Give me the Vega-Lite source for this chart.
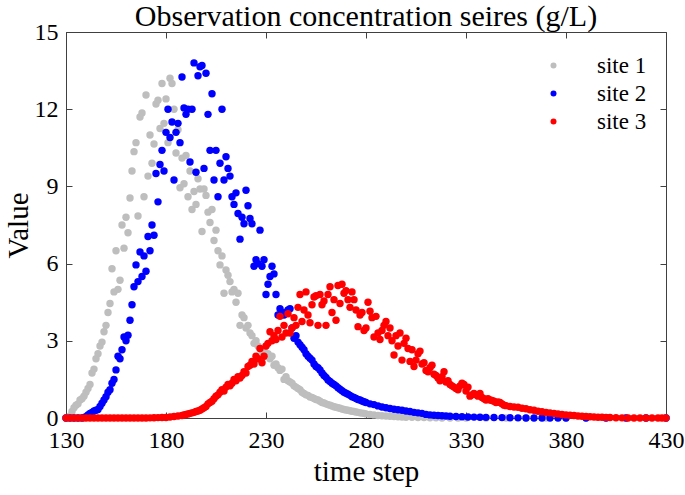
{
"$schema":"https://vega.github.io/schema/vega-lite/v6.json",
"width":600,"height":386,
"autosize":"none",
"padding":{"left":66,"top":32,"right":19,"bottom":77},
"background":"white",
"title":{"text":"Observation concentration seires (g/L)","font":"Liberation Serif","fontSize":30,"fontWeight":"normal","color":"black","anchor":"middle","offset":-12},
"config":{"view":{"stroke":"#404040","strokeWidth":1},"font":"Liberation Serif"},
"data":{"values":[
{"t":130,"s":"site 1","v":0},{"t":131,"s":"site 1","v":0.02},{"t":132,"s":"site 1","v":0.08},{"t":133,"s":"site 1","v":0.25},{"t":134,"s":"site 1","v":0.4},{"t":135,"s":"site 1","v":0.5},{"t":136,"s":"site 1","v":0.55},{"t":137,"s":"site 1","v":0.7},{"t":138,"s":"site 1","v":0.75},{"t":139,"s":"site 1","v":0.85},{"t":140,"s":"site 1","v":1.0},{"t":141,"s":"site 1","v":1.15},{"t":142,"s":"site 1","v":1.3},{"t":143,"s":"site 1","v":1.75},{"t":144,"s":"site 1","v":1.9},{"t":145,"s":"site 1","v":2.3},{"t":146,"s":"site 1","v":2.5},{"t":147,"s":"site 1","v":2.8},{"t":148,"s":"site 1","v":2.95},{"t":149,"s":"site 1","v":3.35},{"t":150,"s":"site 1","v":3.6},{"t":151,"s":"site 1","v":4.1},{"t":152,"s":"site 1","v":4.45},{"t":153,"s":"site 1","v":5.8},{"t":154,"s":"site 1","v":4.9},{"t":155,"s":"site 1","v":6.5},{"t":156,"s":"site 1","v":5.0},{"t":157,"s":"site 1","v":5.35},{"t":158,"s":"site 1","v":7.5},{"t":159,"s":"site 1","v":6.6},{"t":160,"s":"site 1","v":7.8},{"t":161,"s":"site 1","v":7.2},{"t":162,"s":"site 1","v":8.55},{"t":163,"s":"site 1","v":9.6},{"t":164,"s":"site 1","v":10.35},{"t":165,"s":"site 1","v":10.7},{"t":166,"s":"site 1","v":7.85},{"t":167,"s":"site 1","v":11.7},{"t":168,"s":"site 1","v":11.85},{"t":169,"s":"site 1","v":8.6},{"t":170,"s":"site 1","v":12.55},{"t":171,"s":"site 1","v":9.4},{"t":172,"s":"site 1","v":11.0},{"t":173,"s":"site 1","v":9.9},{"t":174,"s":"site 1","v":10.65},{"t":175,"s":"site 1","v":12.2},{"t":176,"s":"site 1","v":12.35},{"t":177,"s":"site 1","v":11.25},{"t":178,"s":"site 1","v":13.0},{"t":179,"s":"site 1","v":11.45},{"t":180,"s":"site 1","v":12.4},{"t":181,"s":"site 1","v":10.7},{"t":182,"s":"site 1","v":13.2},{"t":183,"s":"site 1","v":13.0},{"t":184,"s":"site 1","v":12.0},{"t":185,"s":"site 1","v":10.3},{"t":186,"s":"site 1","v":11.2},{"t":187,"s":"site 1","v":8.95},{"t":188,"s":"site 1","v":10.1},{"t":189,"s":"site 1","v":9.1},{"t":190,"s":"site 1","v":10.2},{"t":191,"s":"site 1","v":8.6},{"t":192,"s":"site 1","v":9.6},{"t":193,"s":"site 1","v":8.1},{"t":194,"s":"site 1","v":8.8},{"t":195,"s":"site 1","v":8.3},{"t":196,"s":"site 1","v":9.3},{"t":197,"s":"site 1","v":8.9},{"t":198,"s":"site 1","v":7.25},{"t":199,"s":"site 1","v":8.9},{"t":200,"s":"site 1","v":8.65},{"t":201,"s":"site 1","v":8.0},{"t":202,"s":"site 1","v":7.6},{"t":203,"s":"site 1","v":8.1},{"t":204,"s":"site 1","v":6.9},{"t":205,"s":"site 1","v":7.3},{"t":206,"s":"site 1","v":6.5},{"t":207,"s":"site 1","v":5.95},{"t":208,"s":"site 1","v":6.3},{"t":209,"s":"site 1","v":4.85},{"t":210,"s":"site 1","v":5.75},{"t":211,"s":"site 1","v":5.55},{"t":212,"s":"site 1","v":5.3},{"t":213,"s":"site 1","v":4.9},{"t":214,"s":"site 1","v":5.0},{"t":215,"s":"site 1","v":4.5},{"t":216,"s":"site 1","v":4.85},{"t":217,"s":"site 1","v":3.6},{"t":218,"s":"site 1","v":4.0},{"t":219,"s":"site 1","v":3.9},{"t":220,"s":"site 1","v":3.5},{"t":221,"s":"site 1","v":3.6},{"t":222,"s":"site 1","v":3.3},{"t":223,"s":"site 1","v":3.2},{"t":224,"s":"site 1","v":2.9},{"t":225,"s":"site 1","v":3.0},{"t":226,"s":"site 1","v":2.8},{"t":227,"s":"site 1","v":2.7},{"t":228,"s":"site 1","v":2.6},{"t":229,"s":"site 1","v":2.65},{"t":230,"s":"site 1","v":2.4},{"t":231,"s":"site 1","v":2.5},{"t":232,"s":"site 1","v":2.3},{"t":233,"s":"site 1","v":2.4},{"t":234,"s":"site 1","v":2.05},{"t":235,"s":"site 1","v":2.1},{"t":236,"s":"site 1","v":1.95},{"t":237,"s":"site 1","v":1.85},{"t":238,"s":"site 1","v":1.9},{"t":239,"s":"site 1","v":1.5},{"t":240,"s":"site 1","v":1.6},{"t":241,"s":"site 1","v":1.45},{"t":242,"s":"site 1","v":1.4},{"t":243,"s":"site 1","v":1.35},{"t":244,"s":"site 1","v":1.25},{"t":245,"s":"site 1","v":1.2},{"t":246,"s":"site 1","v":1.15},{"t":247,"s":"site 1","v":1.1},{"t":248,"s":"site 1","v":1.0},{"t":249,"s":"site 1","v":0.95},{"t":250,"s":"site 1","v":0.9},{"t":251,"s":"site 1","v":0.88},{"t":252,"s":"site 1","v":0.82},{"t":253,"s":"site 1","v":0.8},{"t":254,"s":"site 1","v":0.76},{"t":255,"s":"site 1","v":0.72},{"t":256,"s":"site 1","v":0.7},{"t":257,"s":"site 1","v":0.65},{"t":258,"s":"site 1","v":0.6},{"t":259,"s":"site 1","v":0.58},{"t":260,"s":"site 1","v":0.55},{"t":261,"s":"site 1","v":0.52},{"t":262,"s":"site 1","v":0.5},{"t":263,"s":"site 1","v":0.47},{"t":264,"s":"site 1","v":0.44},{"t":265,"s":"site 1","v":0.42},{"t":266,"s":"site 1","v":0.4},{"t":267,"s":"site 1","v":0.38},{"t":268,"s":"site 1","v":0.35},{"t":269,"s":"site 1","v":0.33},{"t":270,"s":"site 1","v":0.31},{"t":271,"s":"site 1","v":0.3},{"t":272,"s":"site 1","v":0.28},{"t":273,"s":"site 1","v":0.26},{"t":274,"s":"site 1","v":0.25},{"t":275,"s":"site 1","v":0.23},{"t":276,"s":"site 1","v":0.22},{"t":277,"s":"site 1","v":0.2},{"t":278,"s":"site 1","v":0.19},{"t":279,"s":"site 1","v":0.18},{"t":280,"s":"site 1","v":0.16},{"t":282,"s":"site 1","v":0.14},{"t":284,"s":"site 1","v":0.12},{"t":286,"s":"site 1","v":0.1},{"t":288,"s":"site 1","v":0.09},{"t":290,"s":"site 1","v":0.08},{"t":292,"s":"site 1","v":0.07},{"t":294,"s":"site 1","v":0.06},{"t":296,"s":"site 1","v":0.05},{"t":298,"s":"site 1","v":0.04},{"t":300,"s":"site 1","v":0.03},{"t":303,"s":"site 1","v":0.025},{"t":306,"s":"site 1","v":0.02},{"t":309,"s":"site 1","v":0.015},{"t":312,"s":"site 1","v":0.01},{"t":315,"s":"site 1","v":0.005},{"t":318,"s":"site 1","v":0},{"t":322,"s":"site 1","v":0},{"t":326,"s":"site 1","v":0},{"t":330,"s":"site 1","v":0},{"t":340,"s":"site 1","v":0},{"t":350,"s":"site 1","v":0},{"t":360,"s":"site 1","v":0},{"t":370,"s":"site 1","v":0},{"t":380,"s":"site 1","v":0},{"t":390,"s":"site 1","v":0},{"t":400,"s":"site 1","v":0},{"t":410,"s":"site 1","v":0},{"t":420,"s":"site 1","v":0},{"t":430,"s":"site 1","v":0},
{"t":130,"s":"site 2","v":0},{"t":132,"s":"site 2","v":0},{"t":134,"s":"site 2","v":0},{"t":136,"s":"site 2","v":0},{"t":138,"s":"site 2","v":0},{"t":139,"s":"site 2","v":0.02},{"t":140,"s":"site 2","v":0.05},{"t":141,"s":"site 2","v":0.12},{"t":142,"s":"site 2","v":0.18},{"t":143,"s":"site 2","v":0.22},{"t":144,"s":"site 2","v":0.27},{"t":145,"s":"site 2","v":0.3},{"t":146,"s":"site 2","v":0.33},{"t":147,"s":"site 2","v":0.45},{"t":148,"s":"site 2","v":0.57},{"t":149,"s":"site 2","v":0.7},{"t":150,"s":"site 2","v":0.83},{"t":151,"s":"site 2","v":1.0},{"t":152,"s":"site 2","v":1.1},{"t":153,"s":"site 2","v":1.35},{"t":154,"s":"site 2","v":1.5},{"t":155,"s":"site 2","v":1.87},{"t":156,"s":"site 2","v":2.4},{"t":157,"s":"site 2","v":2.3},{"t":158,"s":"site 2","v":2.65},{"t":159,"s":"site 2","v":3.15},{"t":160,"s":"site 2","v":3.0},{"t":161,"s":"site 2","v":3.22},{"t":162,"s":"site 2","v":3.8},{"t":163,"s":"site 2","v":4.4},{"t":164,"s":"site 2","v":5.1},{"t":165,"s":"site 2","v":5.95},{"t":166,"s":"site 2","v":5.3},{"t":167,"s":"site 2","v":6.45},{"t":168,"s":"site 2","v":5.5},{"t":169,"s":"site 2","v":6.3},{"t":170,"s":"site 2","v":5.7},{"t":171,"s":"site 2","v":7.05},{"t":172,"s":"site 2","v":6.5},{"t":173,"s":"site 2","v":7.5},{"t":174,"s":"site 2","v":7.1},{"t":175,"s":"site 2","v":9.5},{"t":176,"s":"site 2","v":8.4},{"t":177,"s":"site 2","v":9.85},{"t":178,"s":"site 2","v":10.4},{"t":179,"s":"site 2","v":9.6},{"t":180,"s":"site 2","v":11.1},{"t":181,"s":"site 2","v":12.0},{"t":182,"s":"site 2","v":10.9},{"t":183,"s":"site 2","v":11.5},{"t":184,"s":"site 2","v":9.25},{"t":185,"s":"site 2","v":11.1},{"t":186,"s":"site 2","v":11.45},{"t":187,"s":"site 2","v":10.7},{"t":188,"s":"site 2","v":13.25},{"t":189,"s":"site 2","v":12.05},{"t":190,"s":"site 2","v":11.8},{"t":191,"s":"site 2","v":12.0},{"t":192,"s":"site 2","v":9.95},{"t":193,"s":"site 2","v":12.0},{"t":194,"s":"site 2","v":13.8},{"t":195,"s":"site 2","v":9.55},{"t":196,"s":"site 2","v":13.3},{"t":197,"s":"site 2","v":13.65},{"t":198,"s":"site 2","v":13.7},{"t":199,"s":"site 2","v":9.7},{"t":200,"s":"site 2","v":13.4},{"t":201,"s":"site 2","v":11.8},{"t":202,"s":"site 2","v":10.4},{"t":203,"s":"site 2","v":12.6},{"t":204,"s":"site 2","v":9.25},{"t":205,"s":"site 2","v":10.4},{"t":206,"s":"site 2","v":8.6},{"t":207,"s":"site 2","v":9.9},{"t":208,"s":"site 2","v":12.0},{"t":209,"s":"site 2","v":9.25},{"t":210,"s":"site 2","v":10.15},{"t":211,"s":"site 2","v":9.7},{"t":212,"s":"site 2","v":9.4},{"t":213,"s":"site 2","v":8.6},{"t":214,"s":"site 2","v":8.3},{"t":215,"s":"site 2","v":8.75},{"t":216,"s":"site 2","v":7.95},{"t":217,"s":"site 2","v":6.95},{"t":218,"s":"site 2","v":7.8},{"t":219,"s":"site 2","v":7.55},{"t":220,"s":"site 2","v":8.85},{"t":221,"s":"site 2","v":8.25},{"t":222,"s":"site 2","v":7.75},{"t":223,"s":"site 2","v":7.55},{"t":224,"s":"site 2","v":5.9},{"t":225,"s":"site 2","v":6.15},{"t":226,"s":"site 2","v":6.0},{"t":227,"s":"site 2","v":7.3},{"t":228,"s":"site 2","v":5.9},{"t":229,"s":"site 2","v":6.15},{"t":230,"s":"site 2","v":4.8},{"t":231,"s":"site 2","v":5.2},{"t":232,"s":"site 2","v":5.5},{"t":233,"s":"site 2","v":5.9},{"t":234,"s":"site 2","v":5.6},{"t":235,"s":"site 2","v":4.8},{"t":236,"s":"site 2","v":4.0},{"t":237,"s":"site 2","v":4.25},{"t":238,"s":"site 2","v":4.1},{"t":239,"s":"site 2","v":4.0},{"t":240,"s":"site 2","v":4.1},{"t":241,"s":"site 2","v":4.2},{"t":242,"s":"site 2","v":4.25},{"t":243,"s":"site 2","v":3.5},{"t":244,"s":"site 2","v":3.1},{"t":245,"s":"site 2","v":3.2},{"t":246,"s":"site 2","v":2.95},{"t":247,"s":"site 2","v":2.85},{"t":248,"s":"site 2","v":2.75},{"t":249,"s":"site 2","v":2.65},{"t":250,"s":"site 2","v":2.5},{"t":251,"s":"site 2","v":2.4},{"t":252,"s":"site 2","v":2.32},{"t":253,"s":"site 2","v":2.25},{"t":254,"s":"site 2","v":2.1},{"t":255,"s":"site 2","v":2.0},{"t":256,"s":"site 2","v":1.95},{"t":257,"s":"site 2","v":1.87},{"t":258,"s":"site 2","v":1.75},{"t":259,"s":"site 2","v":1.65},{"t":260,"s":"site 2","v":1.58},{"t":261,"s":"site 2","v":1.48},{"t":262,"s":"site 2","v":1.42},{"t":263,"s":"site 2","v":1.35},{"t":264,"s":"site 2","v":1.3},{"t":265,"s":"site 2","v":1.25},{"t":266,"s":"site 2","v":1.18},{"t":267,"s":"site 2","v":1.12},{"t":268,"s":"site 2","v":1.06},{"t":269,"s":"site 2","v":1.0},{"t":270,"s":"site 2","v":0.96},{"t":271,"s":"site 2","v":0.92},{"t":272,"s":"site 2","v":0.88},{"t":273,"s":"site 2","v":0.83},{"t":274,"s":"site 2","v":0.8},{"t":275,"s":"site 2","v":0.76},{"t":276,"s":"site 2","v":0.72},{"t":277,"s":"site 2","v":0.7},{"t":278,"s":"site 2","v":0.66},{"t":279,"s":"site 2","v":0.63},{"t":280,"s":"site 2","v":0.6},{"t":282,"s":"site 2","v":0.55},{"t":284,"s":"site 2","v":0.52},{"t":286,"s":"site 2","v":0.47},{"t":288,"s":"site 2","v":0.43},{"t":290,"s":"site 2","v":0.4},{"t":292,"s":"site 2","v":0.37},{"t":294,"s":"site 2","v":0.34},{"t":296,"s":"site 2","v":0.32},{"t":298,"s":"site 2","v":0.3},{"t":300,"s":"site 2","v":0.27},{"t":302,"s":"site 2","v":0.25},{"t":304,"s":"site 2","v":0.22},{"t":306,"s":"site 2","v":0.2},{"t":308,"s":"site 2","v":0.18},{"t":310,"s":"site 2","v":0.14},{"t":312,"s":"site 2","v":0.12},{"t":314,"s":"site 2","v":0.11},{"t":316,"s":"site 2","v":0.1},{"t":318,"s":"site 2","v":0.09},{"t":320,"s":"site 2","v":0.08},{"t":322,"s":"site 2","v":0.07},{"t":325,"s":"site 2","v":0.06},{"t":328,"s":"site 2","v":0.05},{"t":331,"s":"site 2","v":0.04},{"t":334,"s":"site 2","v":0.035},{"t":337,"s":"site 2","v":0.03},{"t":340,"s":"site 2","v":0.025},{"t":344,"s":"site 2","v":0.02},{"t":348,"s":"site 2","v":0.015},{"t":352,"s":"site 2","v":0.01},{"t":356,"s":"site 2","v":0.005},{"t":360,"s":"site 2","v":0},{"t":364,"s":"site 2","v":0},{"t":368,"s":"site 2","v":0},{"t":372,"s":"site 2","v":0},{"t":376,"s":"site 2","v":0},{"t":380,"s":"site 2","v":0},{"t":390,"s":"site 2","v":0},{"t":400,"s":"site 2","v":0},{"t":410,"s":"site 2","v":0},{"t":420,"s":"site 2","v":0},{"t":430,"s":"site 2","v":0},
{"t":130,"s":"site 3","v":0},{"t":132,"s":"site 3","v":0},{"t":134,"s":"site 3","v":0},{"t":136,"s":"site 3","v":0},{"t":138,"s":"site 3","v":0},{"t":140,"s":"site 3","v":0},{"t":142,"s":"site 3","v":0},{"t":144,"s":"site 3","v":0},{"t":146,"s":"site 3","v":0},{"t":148,"s":"site 3","v":0},{"t":150,"s":"site 3","v":0},{"t":152,"s":"site 3","v":0},{"t":154,"s":"site 3","v":0},{"t":156,"s":"site 3","v":0},{"t":158,"s":"site 3","v":0},{"t":160,"s":"site 3","v":0},{"t":162,"s":"site 3","v":0},{"t":164,"s":"site 3","v":0},{"t":166,"s":"site 3","v":0},{"t":168,"s":"site 3","v":0},{"t":170,"s":"site 3","v":0},{"t":172,"s":"site 3","v":0.005},{"t":174,"s":"site 3","v":0.01},{"t":176,"s":"site 3","v":0.015},{"t":178,"s":"site 3","v":0.02},{"t":180,"s":"site 3","v":0.02},{"t":182,"s":"site 3","v":0.04},{"t":184,"s":"site 3","v":0.06},{"t":186,"s":"site 3","v":0.08},{"t":188,"s":"site 3","v":0.1},{"t":189,"s":"site 3","v":0.12},{"t":190,"s":"site 3","v":0.14},{"t":191,"s":"site 3","v":0.16},{"t":192,"s":"site 3","v":0.18},{"t":193,"s":"site 3","v":0.2},{"t":194,"s":"site 3","v":0.22},{"t":195,"s":"site 3","v":0.25},{"t":196,"s":"site 3","v":0.27},{"t":197,"s":"site 3","v":0.3},{"t":198,"s":"site 3","v":0.35},{"t":199,"s":"site 3","v":0.4},{"t":200,"s":"site 3","v":0.45},{"t":201,"s":"site 3","v":0.55},{"t":202,"s":"site 3","v":0.6},{"t":203,"s":"site 3","v":0.65},{"t":204,"s":"site 3","v":0.75},{"t":205,"s":"site 3","v":0.85},{"t":206,"s":"site 3","v":0.9},{"t":207,"s":"site 3","v":1.0},{"t":208,"s":"site 3","v":1.1},{"t":209,"s":"site 3","v":1.05},{"t":210,"s":"site 3","v":1.2},{"t":211,"s":"site 3","v":1.3},{"t":212,"s":"site 3","v":1.25},{"t":213,"s":"site 3","v":1.35},{"t":214,"s":"site 3","v":1.5},{"t":215,"s":"site 3","v":1.45},{"t":216,"s":"site 3","v":1.6},{"t":217,"s":"site 3","v":1.55},{"t":218,"s":"site 3","v":1.65},{"t":219,"s":"site 3","v":1.8},{"t":220,"s":"site 3","v":1.75},{"t":221,"s":"site 3","v":2.0},{"t":222,"s":"site 3","v":2.05},{"t":223,"s":"site 3","v":2.2},{"t":224,"s":"site 3","v":2.1},{"t":225,"s":"site 3","v":2.4},{"t":226,"s":"site 3","v":2.3},{"t":227,"s":"site 3","v":2.7},{"t":228,"s":"site 3","v":2.15},{"t":229,"s":"site 3","v":2.4},{"t":230,"s":"site 3","v":2.8},{"t":231,"s":"site 3","v":2.9},{"t":232,"s":"site 3","v":3.35},{"t":233,"s":"site 3","v":3.0},{"t":234,"s":"site 3","v":3.2},{"t":235,"s":"site 3","v":3.05},{"t":236,"s":"site 3","v":3.4},{"t":237,"s":"site 3","v":3.95},{"t":238,"s":"site 3","v":3.15},{"t":239,"s":"site 3","v":3.6},{"t":240,"s":"site 3","v":3.3},{"t":241,"s":"site 3","v":4.05},{"t":242,"s":"site 3","v":3.3},{"t":243,"s":"site 3","v":3.5},{"t":244,"s":"site 3","v":3.9},{"t":245,"s":"site 3","v":3.6},{"t":246,"s":"site 3","v":4.3},{"t":247,"s":"site 3","v":4.8},{"t":248,"s":"site 3","v":3.75},{"t":249,"s":"site 3","v":4.2},{"t":250,"s":"site 3","v":4.9},{"t":251,"s":"site 3","v":4.0},{"t":252,"s":"site 3","v":3.7},{"t":253,"s":"site 3","v":4.4},{"t":254,"s":"site 3","v":4.7},{"t":255,"s":"site 3","v":4.75},{"t":256,"s":"site 3","v":3.6},{"t":257,"s":"site 3","v":4.8},{"t":258,"s":"site 3","v":4.4},{"t":259,"s":"site 3","v":4.55},{"t":260,"s":"site 3","v":3.6},{"t":261,"s":"site 3","v":4.8},{"t":262,"s":"site 3","v":5.1},{"t":263,"s":"site 3","v":4.1},{"t":264,"s":"site 3","v":4.6},{"t":265,"s":"site 3","v":3.8},{"t":266,"s":"site 3","v":5.15},{"t":267,"s":"site 3","v":4.45},{"t":268,"s":"site 3","v":5.2},{"t":269,"s":"site 3","v":4.85},{"t":270,"s":"site 3","v":4.95},{"t":271,"s":"site 3","v":4.6},{"t":272,"s":"site 3","v":4.3},{"t":273,"s":"site 3","v":4.9},{"t":274,"s":"site 3","v":4.6},{"t":275,"s":"site 3","v":4.2},{"t":276,"s":"site 3","v":3.55},{"t":277,"s":"site 3","v":4.0},{"t":278,"s":"site 3","v":4.1},{"t":279,"s":"site 3","v":3.4},{"t":280,"s":"site 3","v":3.5},{"t":281,"s":"site 3","v":4.5},{"t":282,"s":"site 3","v":4.15},{"t":283,"s":"site 3","v":3.9},{"t":284,"s":"site 3","v":3.15},{"t":285,"s":"site 3","v":3.95},{"t":286,"s":"site 3","v":3.3},{"t":287,"s":"site 3","v":3.05},{"t":288,"s":"site 3","v":3.4},{"t":289,"s":"site 3","v":3.6},{"t":290,"s":"site 3","v":3.75},{"t":291,"s":"site 3","v":3.2},{"t":292,"s":"site 3","v":3.5},{"t":293,"s":"site 3","v":3.0},{"t":294,"s":"site 3","v":2.45},{"t":295,"s":"site 3","v":3.2},{"t":296,"s":"site 3","v":2.8},{"t":297,"s":"site 3","v":3.3},{"t":298,"s":"site 3","v":2.25},{"t":299,"s":"site 3","v":2.9},{"t":300,"s":"site 3","v":3.1},{"t":301,"s":"site 3","v":2.7},{"t":302,"s":"site 3","v":2.2},{"t":303,"s":"site 3","v":2.65},{"t":304,"s":"site 3","v":2.0},{"t":305,"s":"site 3","v":2.25},{"t":306,"s":"site 3","v":2.5},{"t":307,"s":"site 3","v":2.6},{"t":308,"s":"site 3","v":2.1},{"t":309,"s":"site 3","v":2.15},{"t":310,"s":"site 3","v":1.85},{"t":311,"s":"site 3","v":1.8},{"t":312,"s":"site 3","v":1.95},{"t":313,"s":"site 3","v":2.05},{"t":314,"s":"site 3","v":1.7},{"t":315,"s":"site 3","v":1.65},{"t":316,"s":"site 3","v":1.55},{"t":317,"s":"site 3","v":1.45},{"t":318,"s":"site 3","v":1.6},{"t":319,"s":"site 3","v":1.8},{"t":320,"s":"site 3","v":1.4},{"t":321,"s":"site 3","v":1.45},{"t":322,"s":"site 3","v":1.3},{"t":323,"s":"site 3","v":1.25},{"t":324,"s":"site 3","v":1.2},{"t":325,"s":"site 3","v":1.15},{"t":326,"s":"site 3","v":1.1},{"t":327,"s":"site 3","v":1.25},{"t":328,"s":"site 3","v":1.35},{"t":329,"s":"site 3","v":1.3},{"t":330,"s":"site 3","v":1.05},{"t":331,"s":"site 3","v":1.2},{"t":332,"s":"site 3","v":0.85},{"t":333,"s":"site 3","v":0.9},{"t":334,"s":"site 3","v":0.95},{"t":335,"s":"site 3","v":0.9},{"t":336,"s":"site 3","v":0.85},{"t":337,"s":"site 3","v":0.95},{"t":338,"s":"site 3","v":0.8},{"t":339,"s":"site 3","v":0.75},{"t":340,"s":"site 3","v":0.7},{"t":341,"s":"site 3","v":0.75},{"t":342,"s":"site 3","v":0.7},{"t":343,"s":"site 3","v":0.68},{"t":344,"s":"site 3","v":0.65},{"t":345,"s":"site 3","v":0.6},{"t":346,"s":"site 3","v":0.62},{"t":347,"s":"site 3","v":0.6},{"t":348,"s":"site 3","v":0.55},{"t":349,"s":"site 3","v":0.5},{"t":350,"s":"site 3","v":0.48},{"t":352,"s":"site 3","v":0.45},{"t":354,"s":"site 3","v":0.43},{"t":356,"s":"site 3","v":0.42},{"t":358,"s":"site 3","v":0.38},{"t":360,"s":"site 3","v":0.36},{"t":362,"s":"site 3","v":0.32},{"t":364,"s":"site 3","v":0.3},{"t":366,"s":"site 3","v":0.26},{"t":368,"s":"site 3","v":0.24},{"t":370,"s":"site 3","v":0.22},{"t":372,"s":"site 3","v":0.2},{"t":374,"s":"site 3","v":0.18},{"t":376,"s":"site 3","v":0.16},{"t":378,"s":"site 3","v":0.14},{"t":380,"s":"site 3","v":0.12},{"t":382,"s":"site 3","v":0.11},{"t":384,"s":"site 3","v":0.1},{"t":386,"s":"site 3","v":0.08},{"t":388,"s":"site 3","v":0.07},{"t":390,"s":"site 3","v":0.06},{"t":392,"s":"site 3","v":0.05},{"t":394,"s":"site 3","v":0.04},{"t":396,"s":"site 3","v":0.03},{"t":398,"s":"site 3","v":0.03},{"t":400,"s":"site 3","v":0.02},{"t":402,"s":"site 3","v":0.02},{"t":405,"s":"site 3","v":0.01},{"t":408,"s":"site 3","v":0.005},{"t":411,"s":"site 3","v":0},{"t":414,"s":"site 3","v":0},{"t":417,"s":"site 3","v":0},{"t":420,"s":"site 3","v":0},{"t":423,"s":"site 3","v":0},{"t":426,"s":"site 3","v":0},{"t":428,"s":"site 3","v":0},{"t":430,"s":"site 3","v":0}
]},
"layer":[
{"mark":{"type":"point","filled":true,"shape":"circle","size":55,"opacity":1},
 "encoding":{
  "x":{"field":"t","type":"quantitative","scale":{"domain":[130,430],"nice":false,"zero":false},
   "axis":{"orient":"bottom","values":[130,180,230,280,330,380,430],"title":"time step","grid":false,"domain":true,"domainColor":"#404040","tickColor":"#404040","tickSize":-6,"labelFlush":false,"labelOverlap":false,"labelFont":"Liberation Serif","labelFontSize":24,"labelColor":"black","labelPadding":16,"titleFont":"Liberation Serif","titleFontSize":29,"titleFontWeight":"normal","titleColor":"black","titlePadding":5}},
  "y":{"field":"v","type":"quantitative","scale":{"domain":[0,15],"nice":false},
   "axis":{"orient":"left","values":[0,3,6,9,12,15],"title":"Value","grid":false,"domain":true,"domainColor":"#404040","tickColor":"#404040","tickSize":-6,"labelFont":"Liberation Serif","labelFontSize":24,"labelColor":"black","labelPadding":14,"titleFont":"Liberation Serif","titleFontSize":29,"titleFontWeight":"normal","titleColor":"black","titlePadding":1}},
  "color":{"field":"s","type":"nominal","scale":{"domain":["site 1","site 2","site 3"],"range":["#bebebe","#0000ff","#ff0000"]},
   "legend":{"title":null,"orient":"none","legendX":476,"legendY":22,"padding":0,"symbolType":"circle","symbolSize":36,"symbolStrokeWidth":0,"labelFont":"Liberation Serif","labelFontSize":23,"labelColor":"black","labelOffset":32,"rowPadding":4,"fillColor":"white"}}
 }},
{"mark":{"type":"point","opacity":0},
 "encoding":{
  "x":{"field":"t","type":"quantitative","scale":{"domain":[130,430],"nice":false,"zero":false},
   "axis":{"orient":"top","values":[130,180,230,280,330,380,430],"title":null,"labels":false,"grid":false,"domain":false,"tickColor":"#404040","tickSize":-6}},
  "y":{"field":"v","type":"quantitative","scale":{"domain":[0,15],"nice":false},
   "axis":{"orient":"right","values":[0,3,6,9,12,15],"title":null,"labels":false,"grid":false,"domain":false,"tickColor":"#404040","tickSize":-6}}
 }}
],
"resolve":{"axis":{"x":"independent","y":"independent"}}
}
